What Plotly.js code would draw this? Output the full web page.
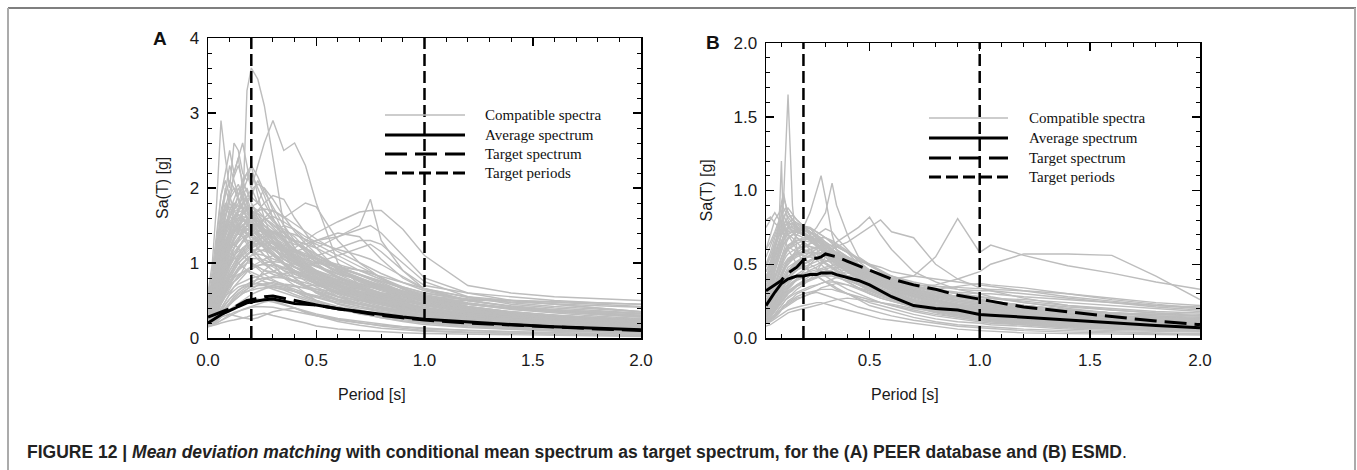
<!DOCTYPE html>
<html>
<head>
<meta charset="utf-8">
<script src="https://cdn.plot.ly/plotly-3.0.1.min.js"></script>
<style>
html,body{margin:0;padding:0;background:#fff;}
#chart{width:1357px;height:470px;}
</style>
</head>
<body>
<div id="chart"></div>
<script>
// ---------------- DATA ----------------
// Panel A (PEER database)
const periodsA = [0,0.02,0.04,0.06,0.08,0.1,0.12,0.14,0.16,0.18, 0.2,0.23,0.26,0.3,0.35,0.4,0.45,0.5, 0.6,0.7,0.75,0.8,0.9,1.0, 1.2,1.4,1.6,1.8,2.0];
const averageA = [0.2,0.24,0.28,0.31,0.34,0.36,0.39,0.42,0.45,0.47, 0.48,0.5,0.51,0.52,0.49,0.46,0.45,0.44, 0.39,0.35,0.33,0.31,0.28,0.25, 0.21,0.18,0.15,0.13,0.11];
const targetA  = [0.28,0.3,0.32,0.34,0.36,0.38,0.41,0.44,0.47,0.5, 0.51,0.53,0.55,0.56,0.53,0.49,0.46,0.44, 0.39,0.34,0.32,0.3,0.27,0.24, 0.2,0.17,0.14,0.12,0.1];
const spectraA = [
 [0.45,0.55,0.7,0.9,1.1,1.3,1.5,1.4,1.7,3.3, 3.6,3.45,3.1,2.4,1.5,1.2,0.9,0.75, 0.55,0.45,0.42,0.38,0.32,0.28, 0.22,0.18,0.15,0.13,0.11],
 [0.4,0.5,0.65,0.9,1.2,1.4,1.7,1.9,2.1,2.2, 2.0,2.3,2.6,2.9,2.5,2.6,2.3,1.8, 1.0,0.7,0.6,0.5,0.4,0.35, 0.28,0.22,0.18,0.15,0.13],
 [0.6,1.0,1.8,2.9,2.4,2.0,2.6,2.5,2.2,2.1, 2.3,1.9,1.6,1.3,1.0,0.8,0.7,0.6, 0.45,0.38,0.34,0.3,0.26,0.22, 0.17,0.14,0.12,0.1,0.09],
 [0.25,0.3,0.4,0.5,0.6,0.7,0.75,0.8,0.9,1.0, 1.1,1.2,1.3,1.4,1.5,1.45,1.3,1.2, 1.35,1.5,1.85,1.3,0.9,0.7, 0.6,0.55,0.5,0.47,0.45],
 [0.2,0.22,0.28,0.35,0.4,0.45,0.5,0.55,0.6,0.65, 0.7,0.8,0.9,1.0,1.1,1.2,1.3,1.4, 1.55,1.68,1.7,1.7,1.45,1.1, 0.7,0.6,0.55,0.52,0.5],
 [0.3,0.35,0.5,0.7,0.9,1.0,1.1,1.2,1.3,1.35, 1.4,1.5,1.6,1.5,1.4,1.3,1.25,1.3, 1.35,1.45,1.5,1.4,1.1,0.8, 0.6,0.5,0.45,0.4,0.35],
 [0.5,0.8,1.3,1.9,2.2,2.5,2.2,2.4,2.0,1.8, 1.6,1.4,1.2,1.0,0.8,0.7,0.6,0.5, 0.4,0.32,0.3,0.27,0.23,0.2, 0.15,0.12,0.1,0.08,0.07],
 [0.35,0.6,1.1,1.6,2.0,1.8,2.2,2.4,2.6,2.3, 2.0,1.8,2.0,1.7,1.4,1.2,1.0,0.9, 0.7,0.55,0.5,0.45,0.38,0.32, 0.25,0.2,0.17,0.14,0.12],
 [0.3,0.45,0.8,1.1,1.4,1.6,1.8,1.7,1.9,2.0, 1.8,1.6,1.5,1.4,1.3,1.1,0.95,0.85, 0.7,0.6,0.55,0.5,0.45,0.38, 0.3,0.25,0.22,0.2,0.18],
 [0.25,0.3,0.45,0.6,0.8,1.0,1.2,1.3,1.4,1.5, 1.6,1.7,1.8,1.9,1.85,1.6,1.4,1.2, 0.9,0.75,0.7,0.65,0.55,0.45, 0.35,0.28,0.24,0.2,0.18],
 [0.3,0.35,0.5,0.7,0.9,1.1,1.2,1.3,1.4,1.5, 1.5,1.45,1.6,1.7,1.6,1.7,1.8,1.75, 1.3,1.0,0.9,0.8,0.65,0.55, 0.42,0.35,0.3,0.26,0.23],
 [0.2,0.25,0.35,0.5,0.65,0.8,0.9,1.0,1.05,1.1, 1.15,1.2,1.25,1.3,1.2,1.15,1.2,1.3, 1.4,1.35,1.2,1.05,0.8,0.65, 0.55,0.5,0.45,0.4,0.35],
 [0.15,0.17,0.2,0.23,0.26,0.3,0.33,0.36,0.38,0.4, 0.42,0.45,0.48,0.5,0.45,0.4,0.35,0.3, 0.25,0.2,0.18,0.16,0.13,0.1, 0.08,0.06,0.05,0.04,0.03],
 [0.18,0.2,0.25,0.3,0.35,0.38,0.4,0.42,0.45,0.48, 0.5,0.52,0.5,0.48,0.44,0.4,0.36,0.32, 0.26,0.22,0.2,0.18,0.15,0.12, 0.1,0.08,0.07,0.06,0.05],
 [0.17,0.19,0.22,0.28,0.3,0.32,0.3,0.28,0.27,0.26, 0.25,0.27,0.3,0.35,0.38,0.4,0.34,0.3, 0.22,0.17,0.15,0.13,0.11,0.09, 0.07,0.06,0.05,0.04,0.035],
 [0.15,0.16,0.18,0.2,0.22,0.23,0.24,0.25,0.26,0.28, 0.3,0.32,0.33,0.3,0.27,0.24,0.2,0.16, 0.12,0.1,0.09,0.08,0.07,0.06, 0.05,0.04,0.03,0.025,0.02],
 [0.4,0.55,0.9,1.3,1.5,1.7,1.6,1.5,1.4,1.3, 1.2,1.1,1.0,0.9,0.8,0.75,0.7,0.65, 0.55,0.5,0.48,0.45,0.4,0.35, 0.3,0.26,0.23,0.2,0.18],
 [0.55,0.9,1.4,1.9,2.1,1.9,1.7,1.6,1.5,1.4, 1.3,1.2,1.1,1.0,0.9,0.8,0.7,0.6, 0.5,0.45,0.42,0.4,0.35,0.3, 0.25,0.2,0.18,0.15,0.13],
 [0.25,0.35,0.6,0.9,1.1,1.3,1.5,1.6,1.7,1.8, 1.9,2.1,1.9,1.6,1.3,1.1,0.95,0.85, 0.7,0.62,0.6,0.55,0.48,0.4, 0.32,0.27,0.23,0.2,0.18],
 [0.3,0.4,0.7,1.0,1.2,1.3,1.4,1.5,1.6,1.5, 1.45,1.4,1.3,1.2,1.1,1.0,0.95,0.9, 0.8,0.72,0.68,0.65,0.6,0.52, 0.45,0.4,0.35,0.32,0.3],
 [0.2,0.25,0.4,0.6,0.75,0.9,1.0,1.1,1.2,1.25, 1.3,1.2,1.1,1.0,0.9,0.85,0.8,0.78, 0.7,0.65,0.62,0.6,0.55,0.5, 0.45,0.4,0.37,0.35,0.33],
 [0.28,0.3,0.45,0.65,0.85,1.0,1.1,1.0,0.95,0.9, 0.85,0.8,0.75,0.72,0.7,0.68,0.66,0.65, 0.62,0.6,0.58,0.56,0.55,0.52, 0.5,0.5,0.48,0.45,0.42],
 [0.35,0.45,0.75,1.1,1.3,1.2,1.1,1.15,1.2,1.1, 1.0,0.95,0.9,0.85,0.8,0.75,0.7,0.7, 0.68,0.66,0.63,0.6,0.58,0.55, 0.52,0.5,0.48,0.46,0.45],
 [0.22,0.28,0.45,0.7,0.95,1.15,1.3,1.4,1.35,1.3, 1.2,1.1,1.0,0.95,0.85,0.75,0.68,0.62, 0.5,0.42,0.38,0.35,0.3,0.26, 0.2,0.17,0.14,0.12,0.1],
 [0.18,0.22,0.3,0.45,0.55,0.65,0.75,0.8,0.85,0.9, 0.95,1.0,1.05,1.1,1.0,0.9,0.85,0.8, 0.75,0.7,0.68,0.66,0.6,0.5, 0.4,0.34,0.3,0.27,0.25],
 [0.32,0.5,0.85,1.25,1.6,1.9,2.0,1.85,1.7,1.6, 1.55,1.5,1.45,1.3,1.15,1.0,0.9,0.8, 0.65,0.55,0.5,0.45,0.4,0.34, 0.27,0.22,0.19,0.16,0.14],
 [0.45,0.7,1.2,1.7,1.95,2.3,2.1,1.9,2.0,1.85, 1.7,1.5,1.35,1.2,1.05,0.95,0.85,0.75, 0.6,0.5,0.46,0.42,0.36,0.3, 0.24,0.2,0.17,0.15,0.13],
 [0.26,0.35,0.55,0.8,1.0,1.15,1.25,1.3,1.45,1.6, 1.7,1.65,1.55,1.45,1.3,1.25,1.2,1.1, 0.95,0.85,0.8,0.74,0.62,0.52, 0.4,0.33,0.28,0.24,0.22],
 [0.22,0.26,0.4,0.55,0.7,0.8,0.85,0.9,0.95,1.0, 1.0,0.95,0.9,0.88,0.85,0.82,0.78,0.72, 0.6,0.52,0.48,0.44,0.38,0.33, 0.26,0.2,0.17,0.14,0.12],
 [0.24,0.3,0.42,0.6,0.75,0.85,0.95,1.05,1.15,1.25, 1.3,1.35,1.4,1.35,1.2,1.05,0.95,1.0, 1.1,1.2,1.25,1.15,0.9,0.65, 0.5,0.42,0.36,0.32,0.28],
 [0.2,0.24,0.32,0.45,0.55,0.62,0.68,0.72,0.75,0.78, 0.8,0.82,0.85,0.9,0.95,1.0,1.05,1.1, 1.2,1.3,1.3,1.25,1.0,0.75, 0.55,0.45,0.4,0.36,0.33],
 [0.16,0.18,0.22,0.28,0.33,0.38,0.42,0.46,0.5,0.55, 0.58,0.62,0.65,0.7,0.68,0.62,0.56,0.5, 0.4,0.33,0.3,0.27,0.22,0.18, 0.14,0.11,0.09,0.08,0.07],
 [0.19,0.2,0.26,0.33,0.4,0.46,0.5,0.55,0.6,0.62, 0.65,0.7,0.72,0.74,0.7,0.65,0.6,0.55, 0.48,0.42,0.4,0.37,0.33,0.28, 0.22,0.18,0.15,0.13,0.11],
 [0.3,0.42,0.68,0.95,1.1,1.2,1.25,1.2,1.1,1.05, 1.0,0.92,0.85,0.78,0.7,0.62,0.55,0.5, 0.42,0.36,0.33,0.3,0.26,0.22, 0.17,0.14,0.12,0.1,0.09],
 [0.38,0.5,0.8,1.15,1.45,1.7,1.8,1.75,1.9,1.7, 1.55,1.6,1.45,1.3,1.1,0.95,0.85,0.75, 0.6,0.52,0.48,0.45,0.42,0.36, 0.3,0.25,0.22,0.2,0.18],
 [0.27,0.38,0.6,0.9,1.15,1.4,1.55,1.7,1.8,1.75, 1.65,1.5,1.4,1.25,1.15,1.05,1.0,0.95, 0.85,0.78,0.74,0.68,0.58,0.48, 0.38,0.32,0.28,0.25,0.22],
 [0.17,0.2,0.3,0.4,0.5,0.58,0.63,0.68,0.7,0.72, 0.73,0.72,0.7,0.65,0.6,0.55,0.5,0.46, 0.38,0.32,0.3,0.28,0.25,0.2, 0.16,0.13,0.11,0.09,0.08],
 [0.21,0.24,0.35,0.5,0.62,0.72,0.8,0.85,0.88,0.9, 0.88,0.84,0.8,0.76,0.72,0.7,0.66,0.62, 0.55,0.5,0.48,0.46,0.42,0.38, 0.33,0.3,0.28,0.26,0.24],
 [0.5,0.75,1.25,1.6,1.75,1.65,1.5,1.45,1.6,1.55, 1.4,1.3,1.2,1.1,1.0,0.9,0.8,0.72, 0.58,0.48,0.44,0.4,0.35,0.3, 0.23,0.18,0.15,0.13,0.11],
 [0.23,0.3,0.5,0.75,1.0,1.2,1.35,1.45,1.5,1.55, 1.6,1.55,1.45,1.35,1.2,1.1,1.05,1.0, 0.95,0.9,0.88,0.8,0.68,0.6, 0.52,0.48,0.45,0.43,0.41],
 [0.3,0.45,0.75,1.1,1.35,1.5,1.6,1.65,1.6,1.5, 1.45,1.35,1.25,1.15,1.0,0.9,0.8,0.72, 0.6,0.52,0.49,0.46,0.4,0.35, 0.28,0.23,0.2,0.17,0.15],
 [0.42,0.6,1.0,1.45,1.7,1.85,1.95,2.05,1.9,1.8, 1.7,1.6,1.45,1.35,1.2,1.05,0.92,0.82, 0.66,0.56,0.52,0.48,0.42,0.36, 0.29,0.24,0.2,0.17,0.15],
 [0.36,0.55,0.95,1.35,1.6,1.8,1.7,1.8,1.95,2.1, 2.2,2.0,1.8,1.6,1.35,1.15,1.0,0.9, 0.72,0.6,0.55,0.5,0.44,0.38, 0.3,0.25,0.21,0.18,0.16],
 [0.26,0.36,0.6,0.85,1.05,1.25,1.4,1.55,1.65,1.7, 1.75,1.8,1.7,1.55,1.45,1.35,1.2,1.05, 0.85,0.72,0.68,0.63,0.55,0.48, 0.38,0.31,0.27,0.24,0.21],
 [0.48,0.7,1.15,1.6,1.9,2.1,2.0,1.85,1.75,1.6, 1.5,1.38,1.25,1.12,0.98,0.86,0.76,0.68, 0.55,0.46,0.43,0.4,0.35,0.3, 0.24,0.2,0.17,0.14,0.12],
 [0.33,0.48,0.8,1.2,1.45,1.6,1.75,1.9,2.05,2.2, 2.3,2.15,1.95,1.75,1.5,1.3,1.15,1.0, 0.8,0.66,0.6,0.55,0.47,0.4, 0.32,0.26,0.22,0.19,0.17],
 [0.24,0.3,0.48,0.7,0.9,1.05,1.2,1.3,1.4,1.45, 1.5,1.5,1.45,1.4,1.35,1.3,1.25,1.2, 1.05,0.9,0.84,0.78,0.66,0.56, 0.45,0.38,0.33,0.29,0.26],
 [0.2,0.26,0.4,0.58,0.75,0.9,1.0,1.08,1.15,1.2, 1.25,1.3,1.35,1.4,1.42,1.38,1.32,1.25, 1.1,0.95,0.88,0.8,0.66,0.55, 0.42,0.35,0.3,0.26,0.23],
 [0.34,0.5,0.85,1.2,1.4,1.55,1.5,1.45,1.35,1.25, 1.15,1.05,0.98,0.9,0.82,0.75,0.68,0.62, 0.52,0.45,0.42,0.39,0.34,0.3, 0.24,0.2,0.17,0.15,0.13],
 [0.4,0.62,1.05,1.5,1.75,1.95,2.15,2.3,2.1,1.95, 1.8,1.65,1.5,1.38,1.22,1.08,0.96,0.86, 0.7,0.58,0.53,0.49,0.43,0.37, 0.3,0.25,0.21,0.18,0.16],
 [0.22,0.28,0.42,0.62,0.8,0.95,1.08,1.18,1.28,1.38, 1.45,1.52,1.58,1.62,1.55,1.45,1.35,1.28, 1.18,1.1,1.05,0.98,0.82,0.66, 0.5,0.42,0.37,0.33,0.3],
 [0.19,0.22,0.3,0.4,0.5,0.6,0.68,0.75,0.82,0.88, 0.92,0.96,1.0,1.02,1.0,0.95,0.9,0.85, 0.78,0.72,0.7,0.68,0.62,0.56, 0.46,0.4,0.36,0.33,0.3],
 [0.28,0.4,0.65,0.95,1.15,1.3,1.4,1.45,1.5,1.45, 1.4,1.32,1.25,1.18,1.08,1.0,0.93,0.86, 0.75,0.66,0.62,0.58,0.52,0.46, 0.38,0.33,0.29,0.26,0.24],
 [0.16,0.18,0.24,0.32,0.4,0.48,0.55,0.6,0.64,0.68, 0.7,0.74,0.78,0.82,0.86,0.88,0.85,0.8, 0.7,0.6,0.56,0.52,0.45,0.38, 0.3,0.24,0.2,0.17,0.15],
 [0.21,0.25,0.36,0.5,0.62,0.74,0.84,0.92,1.0,1.06, 1.1,1.12,1.1,1.06,1.0,0.94,0.88,0.82, 0.7,0.6,0.56,0.52,0.46,0.4, 0.32,0.27,0.23,0.2,0.18],
 [0.3,0.42,0.7,1.0,1.25,1.45,1.6,1.72,1.8,1.85, 1.88,1.8,1.7,1.58,1.42,1.28,1.16,1.05, 0.88,0.76,0.7,0.65,0.57,0.5, 0.4,0.34,0.3,0.27,0.24],
 [0.25,0.33,0.52,0.78,1.0,1.18,1.32,1.42,1.5,1.58, 1.65,1.7,1.72,1.7,1.62,1.52,1.42,1.32, 1.15,1.0,0.93,0.86,0.74,0.63, 0.5,0.42,0.36,0.32,0.29],
 [0.17,0.19,0.25,0.33,0.4,0.47,0.53,0.58,0.62,0.65, 0.68,0.7,0.7,0.68,0.64,0.58,0.53,0.48, 0.4,0.34,0.31,0.29,0.26,0.22, 0.18,0.15,0.13,0.11,0.1],
 [0.44,0.66,1.1,1.55,1.8,1.7,1.85,2.0,1.85,1.7, 1.6,1.5,1.4,1.3,1.15,1.02,0.92,0.84, 0.7,0.6,0.56,0.52,0.46,0.4, 0.32,0.27,0.23,0.2,0.18],
 [0.2,0.24,0.34,0.48,0.6,0.72,0.82,0.9,0.98,1.05, 1.1,1.15,1.18,1.2,1.18,1.14,1.1,1.06, 0.98,0.9,0.86,0.82,0.74,0.66, 0.54,0.47,0.42,0.38,0.35],
 [0.16,0.17,0.2,0.24,0.28,0.31,0.34,0.36,0.38,0.4, 0.41,0.42,0.42,0.41,0.38,0.35,0.32,0.29, 0.24,0.2,0.18,0.17,0.15,0.13, 0.1,0.08,0.07,0.06,0.05],
 [0.18,0.21,0.28,0.37,0.45,0.52,0.58,0.63,0.67,0.7, 0.72,0.73,0.72,0.7,0.66,0.62,0.58,0.54, 0.46,0.4,0.37,0.35,0.31,0.27, 0.21,0.17,0.14,0.12,0.1],
 [0.37,0.56,0.95,1.4,1.65,1.75,1.65,1.55,1.65,1.75, 1.7,1.55,1.42,1.3,1.18,1.06,0.96,0.88, 0.74,0.64,0.6,0.56,0.5,0.44, 0.36,0.3,0.26,0.23,0.21],
 [0.29,0.4,0.66,0.98,1.22,1.4,1.55,1.68,1.78,1.9, 1.98,2.05,2.0,1.85,1.62,1.42,1.26,1.12, 0.92,0.78,0.72,0.67,0.58,0.5, 0.4,0.33,0.29,0.25,0.22],
 [0.32,0.44,0.72,1.02,1.2,1.32,1.42,1.5,1.55,1.58, 1.6,1.56,1.5,1.42,1.3,1.18,1.08,0.98, 0.82,0.7,0.65,0.6,0.52,0.45, 0.36,0.3,0.26,0.23,0.2],
 [0.27,0.36,0.58,0.84,1.02,1.16,1.26,1.34,1.4,1.44, 1.46,1.44,1.4,1.34,1.26,1.18,1.1,1.02, 0.88,0.77,0.72,0.67,0.58,0.5, 0.4,0.34,0.29,0.26,0.23],
 [0.35,0.5,0.82,1.18,1.38,1.48,1.52,1.48,1.42,1.38, 1.34,1.28,1.2,1.1,0.98,0.88,0.8,0.73, 0.62,0.54,0.5,0.47,0.41,0.36, 0.29,0.24,0.21,0.18,0.16],
 [0.23,0.29,0.45,0.66,0.84,0.98,1.1,1.2,1.28,1.34, 1.38,1.42,1.44,1.42,1.36,1.28,1.2,1.12, 0.96,0.84,0.78,0.72,0.62,0.53, 0.42,0.35,0.3,0.27,0.24],
 [0.38,0.54,0.9,1.28,1.5,1.62,1.68,1.72,1.74,1.7, 1.64,1.56,1.46,1.34,1.2,1.08,0.98,0.88, 0.72,0.62,0.57,0.53,0.46,0.4, 0.32,0.27,0.23,0.2,0.18],
 [0.25,0.32,0.5,0.72,0.9,1.04,1.14,1.22,1.28,1.3, 1.3,1.28,1.24,1.18,1.1,1.02,0.95,0.88, 0.76,0.66,0.62,0.58,0.5,0.44, 0.35,0.29,0.25,0.22,0.2],
 [0.2,0.24,0.35,0.5,0.64,0.76,0.86,0.94,1.0,1.04, 1.06,1.06,1.04,1.0,0.94,0.88,0.82,0.76, 0.66,0.58,0.54,0.51,0.45,0.39, 0.31,0.26,0.22,0.19,0.17],
 [0.42,0.58,0.95,1.35,1.55,1.62,1.58,1.52,1.46,1.4, 1.36,1.3,1.22,1.12,1.0,0.9,0.82,0.75, 0.64,0.55,0.51,0.48,0.42,0.37, 0.29,0.24,0.21,0.18,0.16],
 [0.29,0.38,0.6,0.88,1.08,1.22,1.32,1.4,1.46,1.5, 1.52,1.5,1.45,1.38,1.28,1.18,1.1,1.02, 0.9,0.8,0.75,0.7,0.62,0.55, 0.45,0.39,0.35,0.32,0.29],
 [0.22,0.27,0.4,0.57,0.72,0.85,0.96,1.05,1.12,1.18, 1.22,1.26,1.28,1.28,1.24,1.18,1.12,1.06, 0.95,0.85,0.8,0.75,0.66,0.58, 0.47,0.4,0.35,0.31,0.28],
 [0.31,0.45,0.74,1.05,1.26,1.38,1.44,1.46,1.44,1.4, 1.35,1.28,1.2,1.1,0.98,0.88,0.8,0.73, 0.61,0.52,0.48,0.45,0.39,0.34, 0.27,0.22,0.19,0.16,0.14],
 [0.19,0.23,0.33,0.46,0.58,0.68,0.76,0.83,0.88,0.92, 0.95,0.97,0.98,0.97,0.93,0.88,0.83,0.78, 0.69,0.61,0.58,0.55,0.49,0.43, 0.35,0.29,0.25,0.22,0.2],
 [0.34,0.48,0.8,1.12,1.3,1.4,1.46,1.55,1.65,1.72, 1.76,1.7,1.6,1.48,1.32,1.18,1.06,0.96, 0.8,0.68,0.63,0.58,0.5,0.43, 0.34,0.28,0.24,0.21,0.19],
 [0.26,0.34,0.54,0.78,0.96,1.1,1.2,1.28,1.34,1.38, 1.4,1.38,1.34,1.28,1.2,1.12,1.04,0.96, 0.82,0.7,0.65,0.6,0.52,0.45, 0.36,0.3,0.26,0.23,0.21],
 [0.18,0.2,0.27,0.36,0.44,0.52,0.58,0.64,0.68,0.72, 0.75,0.78,0.8,0.81,0.8,0.77,0.74,0.7, 0.62,0.55,0.52,0.49,0.43,0.38, 0.3,0.25,0.21,0.18,0.16],
 [0.4,0.56,0.9,1.25,1.45,1.55,1.62,1.68,1.7,1.66, 1.6,1.52,1.42,1.3,1.16,1.04,0.94,0.86, 0.72,0.62,0.58,0.54,0.47,0.41, 0.33,0.28,0.24,0.21,0.19],
 [0.24,0.3,0.46,0.66,0.82,0.95,1.05,1.12,1.18,1.22, 1.25,1.26,1.25,1.22,1.16,1.09,1.02,0.96, 0.86,0.78,0.74,0.7,0.63,0.56, 0.46,0.4,0.36,0.33,0.3],
 [0.28,0.4,0.64,0.92,1.12,1.28,1.4,1.5,1.58,1.64, 1.68,1.66,1.6,1.52,1.4,1.28,1.18,1.08, 0.92,0.8,0.74,0.69,0.6,0.52, 0.41,0.34,0.3,0.26,0.23],
 [0.2,0.25,0.36,0.52,0.66,0.8,0.9,0.99,1.06,1.12, 1.16,1.18,1.16,1.12,1.05,0.98,0.91,0.85, 0.74,0.65,0.61,0.57,0.5,0.44, 0.35,0.3,0.26,0.23,0.21],
 [0.36,0.5,0.84,1.2,1.42,1.52,1.5,1.46,1.5,1.54, 1.5,1.42,1.32,1.2,1.06,0.95,0.86,0.78, 0.65,0.56,0.52,0.49,0.43,0.37, 0.3,0.25,0.21,0.19,0.17],
 [0.21,0.26,0.38,0.55,0.7,0.83,0.94,1.03,1.1,1.15, 1.2,1.24,1.26,1.26,1.22,1.16,1.1,1.04, 0.93,0.84,0.8,0.76,0.68,0.6, 0.5,0.43,0.38,0.35,0.32],
 [0.33,0.46,0.76,1.08,1.3,1.44,1.54,1.6,1.62,1.6, 1.56,1.48,1.38,1.26,1.12,1.0,0.9,0.82, 0.68,0.58,0.54,0.5,0.44,0.38, 0.3,0.25,0.22,0.19,0.17],
 [0.17,0.19,0.24,0.31,0.38,0.44,0.5,0.55,0.59,0.62, 0.64,0.66,0.67,0.67,0.65,0.62,0.59,0.56, 0.5,0.45,0.43,0.41,0.37,0.33, 0.27,0.23,0.2,0.18,0.16],
 [0.3,0.42,0.7,1.0,1.2,1.34,1.44,1.52,1.56,1.56, 1.54,1.48,1.4,1.3,1.18,1.07,0.98,0.9, 0.77,0.67,0.63,0.59,0.52,0.46, 0.37,0.31,0.27,0.24,0.22]
];

// Panel B (ESMD)
const periodsB = [0.03,0.05,0.07,0.09,0.1,0.11,0.12,0.13,0.15,0.17, 0.2,0.23,0.26,0.28,0.3,0.33,0.35,0.4,0.45, 0.5,0.55,0.6,0.7,0.8,0.9,1.0,1.05, 1.2,1.4,1.6,1.8,2.0];
const averageB = [0.22,0.27,0.31,0.35,0.37,0.38,0.39,0.4,0.41,0.42, 0.42,0.43,0.43,0.44,0.44,0.44,0.43,0.41,0.39, 0.36,0.32,0.28,0.22,0.2,0.19,0.16,0.155, 0.14,0.12,0.1,0.085,0.07];
const targetB  = [0.32,0.34,0.36,0.38,0.39,0.41,0.43,0.44,0.46,0.48, 0.53,0.54,0.54,0.55,0.57,0.56,0.55,0.52,0.49, 0.46,0.43,0.4,0.36,0.33,0.29,0.26,0.25, 0.21,0.175,0.145,0.115,0.09];
const spectraB = [
 [0.25,0.3,0.45,0.6,0.75,0.95,1.3,1.65,0.9,0.6, 0.5,0.45,0.42,0.4,0.38,0.35,0.33,0.3,0.26, 0.22,0.2,0.18,0.14,0.11,0.09,0.08,0.075, 0.06,0.05,0.04,0.035,0.03],
 [0.3,0.4,0.6,0.8,1.2,0.7,0.65,0.6,0.55,0.5, 0.48,0.45,0.42,0.4,0.38,0.36,0.34,0.3,0.27, 0.24,0.22,0.2,0.16,0.13,0.11,0.1,0.09, 0.08,0.06,0.05,0.045,0.04],
 [0.2,0.25,0.35,0.45,0.5,0.55,0.6,0.62,0.65,0.7, 0.75,0.85,1.0,1.1,0.95,0.7,0.6,0.5,0.45, 0.4,0.36,0.32,0.26,0.22,0.19,0.17,0.16, 0.13,0.11,0.09,0.08,0.07],
 [0.15,0.2,0.3,0.38,0.42,0.45,0.48,0.5,0.55,0.6, 0.65,0.7,0.75,0.8,0.85,1.05,0.9,0.7,0.55, 0.5,0.45,0.4,0.32,0.26,0.22,0.19,0.18, 0.15,0.12,0.1,0.09,0.08],
 [0.12,0.15,0.2,0.25,0.28,0.3,0.32,0.34,0.37,0.4, 0.45,0.5,0.55,0.58,0.6,0.62,0.65,0.7,0.75, 0.82,0.7,0.6,0.45,0.38,0.33,0.3,0.28, 0.24,0.2,0.17,0.15,0.13],
 [0.1,0.12,0.16,0.2,0.22,0.24,0.26,0.28,0.3,0.33, 0.36,0.4,0.45,0.5,0.55,0.6,0.62,0.65,0.7, 0.75,0.8,0.72,0.68,0.5,0.4,0.34,0.32, 0.27,0.22,0.19,0.17,0.15],
 [0.12,0.14,0.18,0.22,0.24,0.26,0.28,0.3,0.32,0.35, 0.38,0.4,0.42,0.44,0.45,0.46,0.47,0.45,0.43, 0.42,0.41,0.4,0.42,0.55,0.81,0.58,0.63, 0.56,0.49,0.44,0.38,0.33],
 [0.1,0.12,0.15,0.18,0.2,0.22,0.23,0.25,0.27,0.3, 0.32,0.34,0.36,0.37,0.38,0.4,0.41,0.42,0.42, 0.4,0.38,0.37,0.35,0.36,0.4,0.45,0.5, 0.57,0.57,0.56,0.42,0.26],
 [0.6,0.7,0.8,0.85,0.9,0.88,0.85,0.8,0.75,0.72, 0.7,0.68,0.65,0.6,0.55,0.5,0.48,0.42,0.38, 0.34,0.3,0.27,0.22,0.18,0.15,0.13,0.12, 0.1,0.08,0.07,0.06,0.05],
 [0.8,0.82,0.78,0.75,0.7,0.72,0.75,0.7,0.68,0.65, 0.6,0.58,0.55,0.52,0.5,0.47,0.45,0.4,0.36, 0.32,0.29,0.26,0.21,0.17,0.14,0.12,0.11, 0.09,0.07,0.06,0.05,0.045],
 [0.4,0.5,0.62,0.75,0.85,0.95,0.9,0.85,0.8,0.78, 0.76,0.74,0.7,0.66,0.62,0.58,0.55,0.5,0.45, 0.4,0.36,0.33,0.28,0.24,0.21,0.19,0.18, 0.16,0.13,0.11,0.1,0.09],
 [0.3,0.38,0.5,0.6,0.65,0.7,0.72,0.74,0.76,0.75, 0.74,0.72,0.7,0.68,0.65,0.6,0.58,0.52,0.47, 0.42,0.38,0.35,0.3,0.26,0.23,0.21,0.2, 0.18,0.15,0.13,0.12,0.11],
 [0.2,0.25,0.35,0.45,0.5,0.55,0.58,0.6,0.62,0.64, 0.66,0.68,0.7,0.72,0.74,0.72,0.68,0.6,0.52, 0.46,0.42,0.38,0.32,0.28,0.25,0.23,0.22, 0.2,0.17,0.15,0.14,0.13],
 [0.15,0.18,0.24,0.3,0.34,0.37,0.4,0.42,0.45,0.48, 0.5,0.52,0.55,0.56,0.57,0.56,0.54,0.5,0.46, 0.42,0.4,0.38,0.35,0.33,0.35,0.37,0.36, 0.34,0.3,0.26,0.23,0.2],
 [0.25,0.3,0.4,0.5,0.55,0.58,0.6,0.62,0.6,0.58, 0.56,0.55,0.53,0.5,0.47,0.44,0.42,0.38,0.34, 0.3,0.27,0.25,0.21,0.18,0.16,0.14,0.13, 0.11,0.09,0.08,0.07,0.06],
 [0.1,0.11,0.13,0.15,0.16,0.17,0.18,0.19,0.2,0.21, 0.22,0.23,0.24,0.24,0.23,0.22,0.21,0.19,0.17, 0.15,0.13,0.12,0.1,0.08,0.06,0.05,0.045, 0.035,0.03,0.025,0.02,0.02],
 [0.12,0.13,0.15,0.18,0.2,0.21,0.22,0.23,0.25,0.27, 0.28,0.3,0.31,0.3,0.29,0.28,0.27,0.24,0.21, 0.19,0.17,0.15,0.12,0.1,0.08,0.07,0.065, 0.05,0.04,0.035,0.03,0.025],
 [0.18,0.2,0.25,0.3,0.33,0.35,0.37,0.38,0.4,0.42, 0.44,0.45,0.46,0.47,0.46,0.44,0.42,0.38,0.34, 0.31,0.28,0.26,0.22,0.19,0.17,0.15,0.14, 0.12,0.1,0.09,0.08,0.07],
 [0.35,0.42,0.55,0.65,0.7,0.75,0.8,0.78,0.72,0.68, 0.65,0.62,0.6,0.57,0.55,0.52,0.5,0.46,0.42, 0.38,0.35,0.32,0.28,0.25,0.22,0.2,0.19, 0.17,0.14,0.12,0.11,0.1],
 [0.45,0.5,0.6,0.7,0.75,0.8,0.85,0.82,0.78,0.74, 0.7,0.66,0.62,0.6,0.58,0.55,0.52,0.47,0.42, 0.37,0.33,0.3,0.24,0.2,0.17,0.15,0.14, 0.12,0.1,0.08,0.07,0.06],
 [0.14,0.16,0.2,0.24,0.27,0.29,0.31,0.33,0.36,0.4, 0.43,0.46,0.48,0.5,0.52,0.54,0.56,0.55,0.52, 0.5,0.48,0.45,0.42,0.4,0.38,0.36,0.35, 0.32,0.28,0.25,0.22,0.2],
 [0.2,0.22,0.28,0.33,0.36,0.38,0.4,0.42,0.44,0.46, 0.48,0.5,0.52,0.55,0.58,0.6,0.62,0.58,0.5, 0.44,0.4,0.37,0.34,0.32,0.3,0.28,0.27, 0.25,0.22,0.2,0.18,0.17],
 [0.08,0.09,0.11,0.13,0.14,0.15,0.16,0.17,0.18,0.19, 0.2,0.21,0.22,0.23,0.24,0.25,0.26,0.27,0.26, 0.25,0.24,0.23,0.2,0.18,0.16,0.14,0.13, 0.11,0.09,0.08,0.07,0.06],
 [0.28,0.34,0.45,0.55,0.6,0.64,0.66,0.68,0.7,0.72, 0.7,0.67,0.64,0.62,0.6,0.57,0.55,0.52,0.48, 0.44,0.4,0.37,0.32,0.28,0.26,0.24,0.23, 0.2,0.17,0.15,0.14,0.13],
 [0.5,0.55,0.65,0.72,0.78,0.82,0.85,0.88,0.84,0.8, 0.76,0.72,0.68,0.64,0.6,0.55,0.52,0.45,0.4, 0.35,0.31,0.28,0.23,0.19,0.16,0.14,0.13, 0.11,0.09,0.08,0.07,0.06],
 [0.16,0.18,0.22,0.27,0.3,0.32,0.34,0.36,0.38,0.4, 0.42,0.44,0.45,0.46,0.47,0.48,0.48,0.47,0.45, 0.42,0.4,0.38,0.36,0.35,0.34,0.33,0.33, 0.32,0.3,0.27,0.24,0.22],
 [0.22,0.26,0.33,0.4,0.44,0.47,0.5,0.52,0.54,0.56, 0.58,0.6,0.62,0.63,0.62,0.6,0.57,0.52,0.47, 0.43,0.39,0.36,0.31,0.27,0.24,0.22,0.21, 0.19,0.16,0.14,0.13,0.12],
 [0.1,0.12,0.14,0.17,0.19,0.2,0.21,0.22,0.24,0.26, 0.28,0.3,0.32,0.34,0.35,0.36,0.37,0.36,0.34, 0.32,0.3,0.28,0.25,0.22,0.2,0.19,0.18, 0.16,0.14,0.12,0.11,0.1],
 [0.75,0.8,0.85,0.8,0.78,0.75,0.72,0.7,0.65,0.6, 0.55,0.5,0.47,0.44,0.42,0.39,0.37,0.33,0.3, 0.27,0.24,0.22,0.18,0.15,0.13,0.11,0.1, 0.09,0.07,0.06,0.05,0.045],
 [0.6,0.65,0.72,0.8,0.92,0.98,0.9,0.85,0.8,0.75, 0.7,0.68,0.66,0.64,0.62,0.58,0.55,0.5,0.45, 0.41,0.37,0.34,0.28,0.23,0.2,0.18,0.17, 0.15,0.12,0.1,0.09,0.08],
 [0.13,0.15,0.19,0.23,0.25,0.27,0.29,0.31,0.33,0.35, 0.37,0.39,0.41,0.42,0.43,0.44,0.45,0.44,0.42, 0.4,0.38,0.36,0.33,0.3,0.28,0.27,0.27, 0.26,0.24,0.22,0.2,0.18],
 [0.4,0.46,0.56,0.66,0.7,0.74,0.76,0.78,0.8,0.78, 0.75,0.72,0.68,0.66,0.64,0.6,0.58,0.54,0.5, 0.46,0.43,0.4,0.35,0.31,0.28,0.26,0.25, 0.22,0.19,0.17,0.16,0.15],
 [0.3,0.36,0.46,0.55,0.6,0.63,0.66,0.68,0.7,0.7, 0.68,0.66,0.63,0.6,0.57,0.53,0.5,0.45,0.4, 0.36,0.32,0.29,0.24,0.2,0.17,0.15,0.14, 0.12,0.1,0.085,0.075,0.065],
 [0.22,0.27,0.36,0.45,0.5,0.54,0.57,0.6,0.63,0.66, 0.68,0.68,0.67,0.65,0.63,0.6,0.57,0.52,0.47, 0.42,0.38,0.35,0.29,0.25,0.22,0.2,0.19, 0.16,0.13,0.11,0.1,0.09],
 [0.5,0.58,0.68,0.76,0.8,0.83,0.8,0.76,0.72,0.68, 0.64,0.6,0.57,0.54,0.51,0.48,0.46,0.41,0.37, 0.33,0.3,0.27,0.22,0.18,0.15,0.13,0.12, 0.1,0.08,0.07,0.06,0.05],
 [0.18,0.22,0.3,0.38,0.42,0.46,0.5,0.53,0.56,0.6, 0.62,0.64,0.65,0.66,0.65,0.62,0.6,0.54,0.49, 0.44,0.4,0.36,0.3,0.26,0.23,0.21,0.2, 0.18,0.15,0.13,0.12,0.11],
 [0.26,0.3,0.4,0.5,0.55,0.6,0.64,0.67,0.7,0.73, 0.76,0.75,0.72,0.7,0.68,0.64,0.6,0.55,0.5, 0.45,0.41,0.37,0.31,0.26,0.22,0.2,0.19, 0.16,0.13,0.11,0.1,0.09],
 [0.14,0.17,0.22,0.28,0.31,0.34,0.37,0.4,0.43,0.46, 0.5,0.53,0.55,0.56,0.56,0.55,0.53,0.49,0.45, 0.41,0.37,0.34,0.29,0.25,0.22,0.2,0.19, 0.17,0.14,0.12,0.11,0.1],
 [0.38,0.45,0.55,0.62,0.66,0.7,0.73,0.76,0.78,0.77, 0.74,0.7,0.66,0.63,0.6,0.56,0.53,0.48,0.43, 0.39,0.35,0.32,0.27,0.23,0.2,0.18,0.17, 0.15,0.12,0.1,0.09,0.08],
 [0.2,0.24,0.3,0.36,0.4,0.43,0.46,0.48,0.5,0.52, 0.54,0.55,0.55,0.54,0.53,0.51,0.49,0.45,0.41, 0.37,0.33,0.3,0.25,0.21,0.18,0.16,0.15, 0.13,0.11,0.09,0.08,0.07],
 [0.12,0.14,0.18,0.22,0.24,0.26,0.28,0.3,0.33,0.36, 0.39,0.42,0.45,0.47,0.48,0.49,0.5,0.5,0.48, 0.46,0.44,0.42,0.38,0.35,0.33,0.32,0.32, 0.3,0.27,0.24,0.21,0.19],
 [0.45,0.52,0.62,0.7,0.74,0.77,0.8,0.82,0.83,0.8, 0.76,0.72,0.68,0.65,0.62,0.58,0.55,0.5,0.46, 0.42,0.38,0.35,0.3,0.26,0.23,0.21,0.2, 0.18,0.15,0.13,0.12,0.11],
 [0.16,0.19,0.25,0.31,0.35,0.38,0.41,0.44,0.47,0.5, 0.53,0.56,0.58,0.6,0.61,0.6,0.58,0.53,0.48, 0.44,0.4,0.37,0.32,0.28,0.25,0.23,0.22, 0.2,0.17,0.15,0.14,0.13],
 [0.24,0.28,0.36,0.43,0.47,0.5,0.52,0.54,0.56,0.57, 0.58,0.57,0.55,0.53,0.51,0.48,0.46,0.42,0.38, 0.34,0.31,0.28,0.23,0.19,0.16,0.14,0.13, 0.11,0.09,0.08,0.07,0.06],
 [0.33,0.4,0.5,0.58,0.62,0.66,0.68,0.7,0.72,0.74, 0.75,0.74,0.72,0.7,0.68,0.65,0.63,0.58,0.53, 0.49,0.45,0.42,0.36,0.31,0.28,0.26,0.25, 0.22,0.19,0.17,0.16,0.15],
 [0.11,0.13,0.16,0.2,0.22,0.24,0.26,0.27,0.29,0.31, 0.33,0.35,0.36,0.37,0.38,0.38,0.38,0.36,0.33, 0.3,0.27,0.25,0.21,0.18,0.15,0.13,0.12, 0.1,0.08,0.07,0.06,0.05],
 [0.15,0.18,0.23,0.28,0.31,0.33,0.35,0.37,0.4,0.43, 0.46,0.48,0.5,0.51,0.52,0.52,0.51,0.48,0.45, 0.42,0.4,0.38,0.35,0.33,0.31,0.3,0.3, 0.28,0.26,0.24,0.22,0.21],
 [0.55,0.62,0.7,0.78,0.83,0.86,0.88,0.85,0.8,0.76, 0.72,0.68,0.64,0.6,0.57,0.53,0.5,0.45,0.4, 0.36,0.33,0.3,0.25,0.21,0.18,0.16,0.15, 0.13,0.11,0.09,0.08,0.07],
 [0.28,0.33,0.42,0.5,0.55,0.58,0.61,0.63,0.65,0.66, 0.66,0.65,0.63,0.61,0.59,0.56,0.54,0.49,0.44, 0.4,0.36,0.33,0.28,0.24,0.21,0.19,0.18, 0.16,0.13,0.11,0.1,0.09],
 [0.2,0.24,0.31,0.38,0.42,0.45,0.48,0.5,0.53,0.55, 0.57,0.58,0.58,0.57,0.56,0.54,0.52,0.48,0.44, 0.4,0.37,0.34,0.29,0.25,0.22,0.2,0.19, 0.17,0.14,0.12,0.11,0.1],
 [0.36,0.42,0.52,0.6,0.64,0.67,0.7,0.72,0.73,0.72, 0.7,0.67,0.64,0.61,0.58,0.55,0.52,0.47,0.42, 0.38,0.34,0.31,0.26,0.22,0.19,0.17,0.16, 0.14,0.11,0.1,0.09,0.08],
 [0.17,0.2,0.26,0.32,0.36,0.39,0.42,0.45,0.48,0.51, 0.54,0.56,0.57,0.58,0.58,0.57,0.55,0.51,0.47, 0.43,0.39,0.36,0.31,0.27,0.24,0.22,0.21, 0.19,0.16,0.14,0.13,0.12],
 [0.42,0.48,0.58,0.66,0.7,0.72,0.74,0.75,0.75,0.73, 0.7,0.66,0.62,0.59,0.56,0.52,0.5,0.45,0.41, 0.37,0.33,0.3,0.25,0.21,0.18,0.16,0.15, 0.13,0.11,0.09,0.08,0.07],
 [0.24,0.29,0.37,0.45,0.49,0.52,0.55,0.57,0.59,0.61, 0.62,0.62,0.61,0.6,0.58,0.55,0.53,0.49,0.45, 0.41,0.37,0.34,0.29,0.25,0.22,0.2,0.19, 0.17,0.14,0.12,0.11,0.1],
 [0.13,0.15,0.19,0.23,0.26,0.28,0.3,0.32,0.34,0.36, 0.38,0.4,0.41,0.42,0.42,0.42,0.41,0.39,0.36, 0.33,0.31,0.29,0.25,0.22,0.2,0.18,0.17, 0.15,0.13,0.11,0.1,0.09],
 [0.32,0.38,0.48,0.57,0.62,0.66,0.69,0.71,0.72,0.72, 0.71,0.69,0.67,0.65,0.63,0.6,0.58,0.53,0.49, 0.45,0.41,0.38,0.33,0.29,0.26,0.24,0.23, 0.2,0.17,0.15,0.14,0.13],
 [0.19,0.22,0.28,0.34,0.38,0.41,0.44,0.46,0.49,0.52, 0.55,0.58,0.6,0.62,0.63,0.63,0.62,0.58,0.54, 0.5,0.46,0.42,0.37,0.33,0.3,0.28,0.27, 0.24,0.21,0.19,0.17,0.16],
 [0.48,0.55,0.64,0.7,0.73,0.75,0.77,0.78,0.77,0.75, 0.72,0.68,0.64,0.61,0.58,0.54,0.51,0.46,0.41, 0.37,0.33,0.3,0.25,0.21,0.18,0.16,0.15, 0.13,0.1,0.09,0.08,0.07],
 [0.15,0.17,0.21,0.26,0.29,0.31,0.33,0.35,0.37,0.39, 0.41,0.43,0.44,0.45,0.45,0.45,0.44,0.41,0.38, 0.35,0.32,0.3,0.26,0.23,0.21,0.19,0.18, 0.16,0.14,0.12,0.11,0.1],
 [0.26,0.31,0.4,0.48,0.52,0.56,0.59,0.62,0.64,0.66, 0.67,0.67,0.66,0.64,0.62,0.59,0.57,0.52,0.48, 0.44,0.4,0.37,0.32,0.28,0.25,0.23,0.22, 0.19,0.16,0.14,0.13,0.12],
 [0.21,0.25,0.32,0.39,0.43,0.46,0.49,0.52,0.55,0.58, 0.61,0.64,0.66,0.68,0.68,0.66,0.64,0.59,0.54, 0.49,0.45,0.41,0.35,0.31,0.28,0.26,0.25, 0.22,0.19,0.17,0.15,0.14],
 [0.1,0.12,0.15,0.18,0.2,0.21,0.23,0.24,0.26,0.28, 0.3,0.31,0.32,0.33,0.33,0.33,0.32,0.3,0.28, 0.26,0.24,0.22,0.19,0.16,0.14,0.12,0.11, 0.1,0.08,0.07,0.06,0.05],
 [0.38,0.44,0.54,0.62,0.66,0.69,0.71,0.73,0.74,0.74, 0.73,0.71,0.69,0.67,0.65,0.62,0.6,0.55,0.5, 0.46,0.42,0.39,0.34,0.3,0.27,0.25,0.24, 0.21,0.18,0.16,0.15,0.14],
 [0.23,0.27,0.34,0.41,0.45,0.48,0.51,0.53,0.55,0.57, 0.59,0.6,0.61,0.61,0.6,0.58,0.56,0.52,0.48, 0.44,0.41,0.38,0.33,0.29,0.27,0.25,0.24, 0.22,0.19,0.17,0.16,0.15]
];

const targetPeriods = [0.2, 1.0];
const legendLabels = ['Compatible spectra','Average spectrum','Target spectrum','Target periods'];
const panelLabels = ['A','B'];
const yTitle = 'Sa(T) [g]';
const xTitle = 'Period [s]';
const captionText = '<b>FIGURE 12 | <i>Mean deviation matching</i> with conditional mean spectrum as target spectrum, for the (A) PEER database and (B) ESMD</b>.';

// ---------------- STYLE / LAYOUT ----------------
const W = 1357, H = 470;
const px = v => v / W;
const py = v => 1 - v / H;
const GRAY = '#bdbdbd';
const SANS = 'Liberation Sans, Arial, sans-serif';
const SERIF = 'Liberation Serif, Times New Roman, serif';
const DASH_TARGET = '22px,8px';
const DASH_PERIOD = '12px,5px';

const panels = [
  {xa:'x', ya:'y', periods:periodsA, spectra:spectraA, avg:averageA, tgt:targetA, yr:[0,4],
   box:{l:208, r:641, t:38, b:338}, leg:{x0:385, x1:465, tx:483, rows:[115,135,154,173]},
   label:{x:160, y:38}, ytitle:{x:162}, xtitle:{x:372}},
  {xa:'x2', ya:'y2', periods:periodsB, spectra:spectraB, avg:averageB, tgt:targetB, yr:[0,2],
   box:{l:766, r:1200, t:43, b:338}, leg:{x0:929, x1:1008, tx:1027, rows:[118,138,158,177]},
   label:{x:713, y:42}, ytitle:{x:706}, xtitle:{x:905}}
];

const traces = [];
panels.forEach(p => {
  p.spectra.forEach(s => traces.push({x:p.periods, y:s, xaxis:p.xa, yaxis:p.ya, type:'scatter', mode:'lines',
    line:{color:GRAY, width:1.4}, hoverinfo:'skip', showlegend:false}));
});
panels.forEach(p => {
  traces.push({x:p.periods, y:p.avg, xaxis:p.xa, yaxis:p.ya, type:'scatter', mode:'lines',
    line:{color:'#000', width:3}, showlegend:false, hoverinfo:'skip'});
  traces.push({x:p.periods, y:p.tgt, xaxis:p.xa, yaxis:p.ya, type:'scatter', mode:'lines',
    line:{color:'#000', width:3, dash:DASH_TARGET}, showlegend:false, hoverinfo:'skip'});
  targetPeriods.forEach(tp => traces.push({x:[tp,tp], y:p.yr, xaxis:p.xa, yaxis:p.ya, type:'scatter', mode:'lines',
    line:{color:'#000', width:2.5, dash:DASH_PERIOD}, showlegend:false, hoverinfo:'skip'}));
});

function axisBase(extra){
  return Object.assign({
    showline:true, linecolor:'#000', linewidth:1.5, mirror:'allticks',
    ticks:'inside', ticklen:8, tickwidth:1.5, tickcolor:'#000',
    showgrid:false, zeroline:false, fixedrange:true,
    tickfont:{family:SANS, size:17, color:'#1a1a1a'}
  }, extra);
}

const layout = {
  width:W, height:H, margin:{l:0,r:0,t:0,b:0}, paper_bgcolor:'#fff', plot_bgcolor:'#fff',
  showlegend:false, font:{family:SANS},
  xaxis: axisBase({domain:[px(208),px(641)], range:[0,2], dtick:0.5, tick0:0, tickformat:'.1f', anchor:'y', ticklabelstandoff:6,
    minor:{dtick:0.1, tick0:0, ticks:'inside', ticklen:4, tickwidth:1, tickcolor:'#000'}}),
  yaxis: axisBase({domain:[py(338),py(38)], range:[0,4], dtick:1, tick0:0, anchor:'x', ticklabelstandoff:4,
    minor:{dtick:0.2, tick0:0, ticks:'inside', ticklen:4, tickwidth:1, tickcolor:'#000'}}),
  xaxis2: axisBase({domain:[px(766),px(1200)], range:[0.03,2], tickvals:[0.5,1,1.5,2], tickformat:'.1f', anchor:'y2', ticklabelstandoff:6,
    minor:{dtick:0.1, tick0:0, ticks:'inside', ticklen:4, tickwidth:1, tickcolor:'#000'}}),
  yaxis2: axisBase({domain:[py(338),py(43)], range:[0,2], dtick:0.5, tick0:0, tickformat:'.1f', anchor:'x2', ticklabelstandoff:4,
    minor:{dtick:0.1, tick0:0, ticks:'inside', ticklen:4, tickwidth:1, tickcolor:'#000'}}),
  shapes:[], annotations:[]
};

// figure frame
layout.shapes.push({type:'line', xref:'paper', yref:'paper', x0:px(8), x1:px(1356), y0:py(8), y1:py(8), line:{color:'#7f7f7f', width:2}});
layout.shapes.push({type:'line', xref:'paper', yref:'paper', x0:px(8), x1:px(8), y0:py(8), y1:0, line:{color:'#ababab', width:2}});
layout.shapes.push({type:'line', xref:'paper', yref:'paper', x0:px(1355), x1:px(1355), y0:py(8), y1:0, line:{color:'#ababab', width:2}});

const legStyles = [
  {color:GRAY, width:1.5},
  {color:'#000', width:3},
  {color:'#000', width:3, dash:DASH_TARGET},
  {color:'#000', width:3, dash:DASH_PERIOD}
];

panels.forEach((p,i) => {
  p.leg.rows.forEach((ry,k) => {
    layout.shapes.push({type:'line', xref:'paper', yref:'paper', layer:'above',
      x0:px(p.leg.x0), x1:px(p.leg.x1), y0:py(ry), y1:py(ry), line:legStyles[k]});
    layout.annotations.push({xref:'paper', yref:'paper', x:px(p.leg.tx), y:py(ry), xanchor:'left', yanchor:'middle',
      text:legendLabels[k], showarrow:false, font:{family:SERIF, size:15, color:'#111'}});
  });
  layout.annotations.push({xref:'paper', yref:'paper', x:px(p.label.x), y:py(p.label.y), xanchor:'center', yanchor:'middle',
    text:'<b>'+panelLabels[i]+'</b>', showarrow:false, font:{family:SANS, size:19, color:'#111'}});
  layout.annotations.push({xref:'paper', yref:'paper', x:px(p.ytitle.x), y:py((p.box.t+p.box.b)/2), xanchor:'center', yanchor:'middle',
    text:yTitle, textangle:-90, showarrow:false, font:{family:SANS, size:16, color:'#1a1a1a'}});
  layout.annotations.push({xref:'paper', yref:'paper', x:px(p.xtitle.x), y:py(394), xanchor:'center', yanchor:'middle',
    text:xTitle, showarrow:false, font:{family:SANS, size:16, color:'#1a1a1a'}});
});

layout.annotations.push({xref:'paper', yref:'paper', x:px(25), y:py(452), xanchor:'left', yanchor:'middle',
  text:captionText, showarrow:false, font:{family:SANS, size:17.5, color:'#222'}});

Plotly.newPlot('chart', traces, layout, {staticPlot:true, displayModeBar:false});
</script>
</body>
</html>
